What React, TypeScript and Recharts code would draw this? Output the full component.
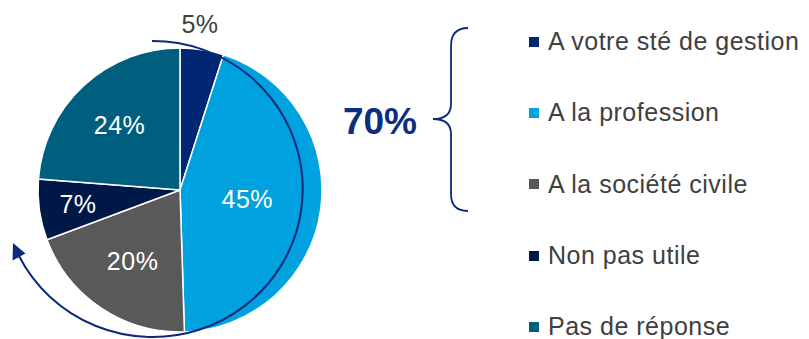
import { PieChart, Pie, Cell, Legend } from "recharts";

const CATEGORIES = [
  "A votre sté de gestion",
  "A la profession",
  "A la société civile",
  "Non pas utile",
  "Pas de réponse",
];
const SHARES = [5, 45, 20, 7, 24];
const COLORS = ["#002674", "#00A1DF", "#595959", "#001848", "#005F7F"];
const BRACE_LABEL = "70%";

const NAVY = "#0B2A7A";
const TEXT = "#404040";
const FONT = '"Liberation Sans", Arial, sans-serif';

const data = CATEGORIES.map((name, i) => ({ name, value: SHARES[i] }));

const RAD = Math.PI / 180;
// distance of each value label from the pie centre (like the PowerPoint "best fit")
const LABEL_RADIUS = [168, 68, 85, 103, 89];

function renderLabel(props: any) {
  const { cx, cy, midAngle, index, value } = props;
  const r = LABEL_RADIUS[index] ?? 90;
  const x = cx + r * Math.cos(-midAngle * RAD) - (index === 0 ? 6 : 0);
  const y = cy + r * Math.sin(-midAngle * RAD);
  return (
    <text
      x={x}
      y={y}
      fill={index === 0 ? TEXT : "#fff"}
      textAnchor="middle"
      dominantBaseline="central"
      fontSize={25}
      letterSpacing={0.5}
      fontFamily={FONT}
    >
      {value}%
    </text>
  );
}

function renderLegend() {
  return (
    <div style={{ fontFamily: FONT, fontSize: 25, letterSpacing: 0.5, color: TEXT }}>
      {CATEGORIES.map((name, i) => (
        <div
          key={name}
          style={{ height: 71.3, lineHeight: "71.3px", display: "flex", alignItems: "center", whiteSpace: "nowrap" }}
        >
          <span style={{ display: "inline-block", width: 10, height: 10, background: COLORS[i], marginRight: 9 }} />
          <span>{name}</span>
        </div>
      ))}
    </div>
  );
}

export default function App() {
  return (
    <div style={{ position: "absolute", left: 0, top: 0, width: 809, height: 339, background: "#fff", overflow: "hidden" }}>
      <PieChart width={809} height={339} margin={{ top: 0, right: 0, bottom: 0, left: 0 }}>
        <Pie
          data={data}
          dataKey="value"
          nameKey="name"
          cx={180}
          cy={190}
          outerRadius={142}
          startAngle={90}
          endAngle={-270}
          stroke="#fff"
          strokeWidth={1.5}
          label={renderLabel}
          labelLine={false}
          isAnimationActive={false}
        >
          {data.map((d, i) => (
            <Cell key={d.name} fill={COLORS[i]} />
          ))}
        </Pie>
        <Legend
          layout="vertical"
          align="right"
          verticalAlign="top"
          content={renderLegend}
          wrapperStyle={{ position: "absolute", left: 529, top: 6, width: 280 }}
        />
      </PieChart>

      {/* annotation: curved arrow round the pie, brace and the 70% total */}
      <svg
        width={809}
        height={339}
        style={{ position: "absolute", left: 0, top: 0, pointerEvents: "none" }}
      >
        <path d="M152,41 A150,148 0 1,1 19,256" fill="none" stroke={NAVY} strokeWidth={2} />
        <polygon points="13,243 12.5,260.5 25.5,253.5" fill={NAVY} />
        <path
          d="M468,28 C458,28 451,33 451,46 L451,104 C451,114 445,119 433,119 C445,119 451,124 451,134 L451,194 C451,206 458,211 468,211"
          fill="none"
          stroke={NAVY}
          strokeWidth={1.8}
        />
        <text
          x={380}
          y={121}
          textAnchor="middle"
          dominantBaseline="central"
          fontSize={37}
          fontWeight="bold"
          fontFamily={FONT}
          fill="#0D2E80"
        >
          {BRACE_LABEL}
        </text>
      </svg>
    </div>
  );
}
